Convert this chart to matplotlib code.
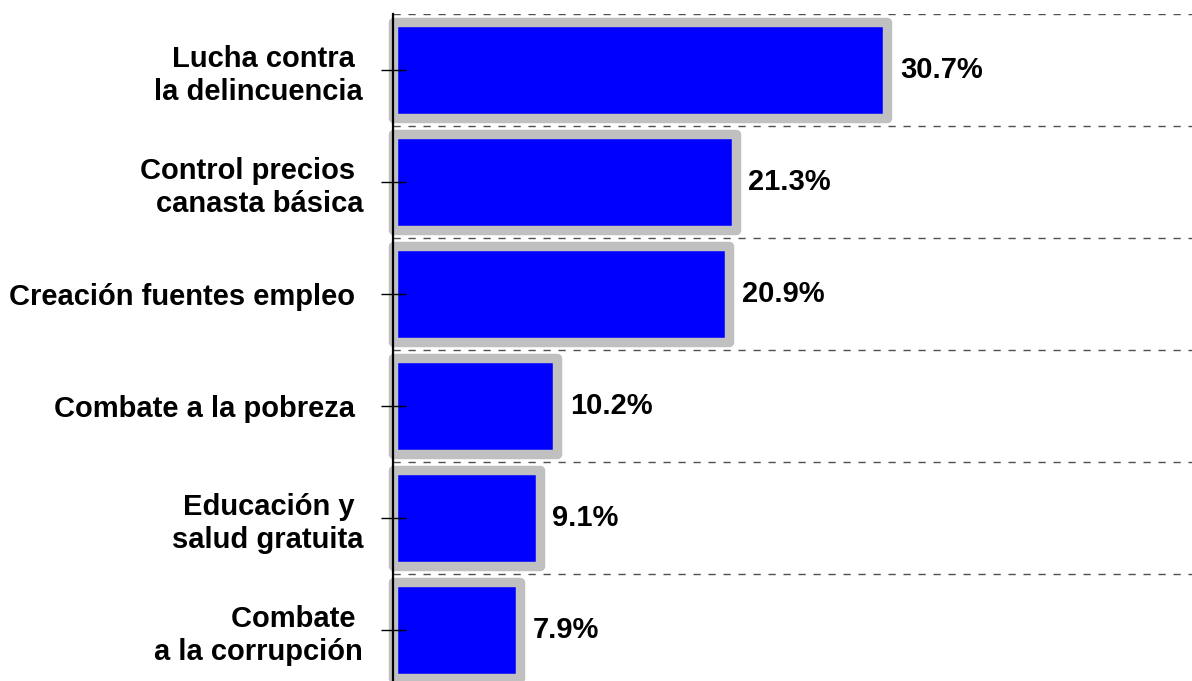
import matplotlib
matplotlib.use("Agg")
import matplotlib.pyplot as plt
import numpy as np

categories = ["Lucha contra \nla delincuencia", "Control precios \ncanasta básica",
              "Creación fuentes empleo ", "Combate a la pobreza ",
              "Educación y \nsalud gratuita", "Combate \na la corrupción"]
values = [30.7, 21.3, 20.9, 10.2, 9.1, 7.9]
value_labels = ["30.7%", "21.3%", "20.9%", "10.2%", "9.1%", "7.9%"]

plt.rcParams['font.family'] = ['Liberation Sans', 'DejaVu Sans']

W, H = 1192, 681
fig = plt.figure(figsize=(W / 100, H / 100), dpi=100)
left_px, top_px, row_px = 393, 14, 112
n = len(categories)
bottom_px = top_px + n * row_px
ax = fig.add_axes([left_px / W, (H - bottom_px) / H, (W - left_px) / W, (n * row_px) / H])
ax.set_axisbelow(False)

y = np.arange(n)
bars = ax.barh(y, values, height=0.85, color="#0000FF", edgecolor="#C0C0C0",
               linewidth=6.8, zorder=2)
for b in bars:
    b.set_joinstyle('round')
    b.set_clip_on(False)

ax.set_ylim(n - 0.5, -0.5)
ax.set_xlim(0, (W - left_px) / 16.1)

ax.set_yticks(y)
ax.set_yticklabels(categories, fontsize=21, fontweight='bold', multialignment='right',
                   linespacing=1.22)
ax.set_yticks(np.arange(-0.5, n, 1), minor=True)
ax.tick_params(axis='y', which='major', direction='inout', length=18, width=1,
               color='black', pad=12.5)
ax.tick_params(axis='y', which='minor', length=0)
ax.set_xticks([])
ax.grid(axis='y', which='minor', color='#505050', linestyle=(0, (5.2, 5.6)), linewidth=1.0)

for s in ['top', 'right', 'bottom']:
    ax.spines[s].set_visible(False)
ax.spines['left'].set_linewidth(1.6)
ax.spines['left'].set_color('black')
ax.spines['left'].set_zorder(5)

for yi, v, lab in zip(y, values, value_labels):
    ax.annotate(lab, xy=(v, yi), xytext=(9, 0), textcoords='offset points',
                ha='left', va='center', fontsize=21, fontweight='bold')

fig.savefig("out.png", dpi=100)
